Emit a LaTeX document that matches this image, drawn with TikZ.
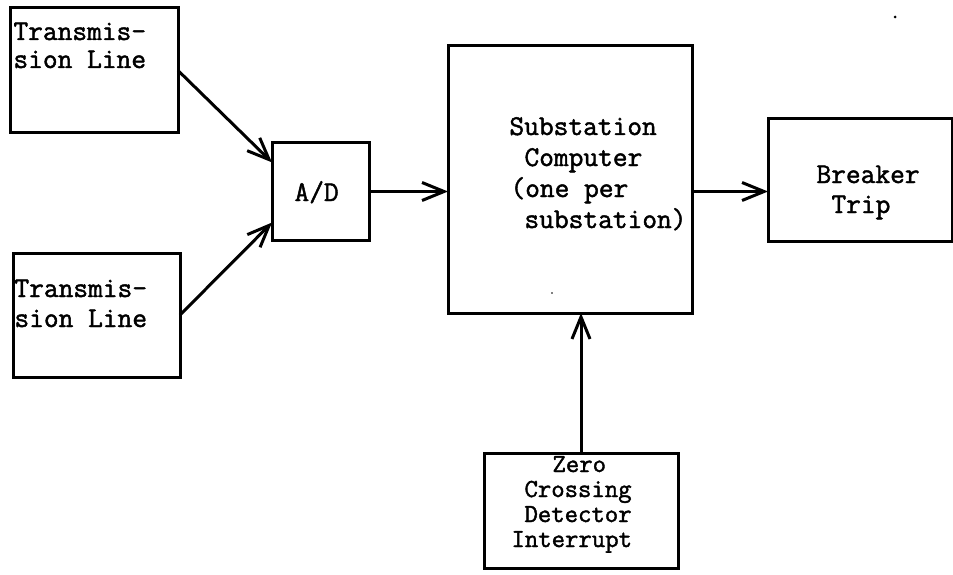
\documentclass[tikz,border=0pt]{standalone}
\usepackage{fontspec}
\newfontfamily\twfont{Latin Modern Mono}[FakeBold=1.6]
\usetikzlibrary{arrows.meta,calc}
\begin{document}
\begin{tikzpicture}[x=1pt,y=-1pt,line width=3pt,
  blk/.style={draw,rectangle,inner sep=0pt,outer sep=0pt},
  lbl/.style={anchor=base west,inner sep=0pt,font=\twfont\fontsize{28.6}{28.6}\selectfont},
  zlbl/.style={anchor=base west,inner sep=0pt,font=\twfont\fontsize{26}{26}\selectfont},
  conn/.style={-{Straight Barb[length=22pt,width=18pt]}}]
\useasboundingbox (0,0) rectangle (953,575);
\clip (0,0) rectangle (953,575);
% boxes
\node[blk,minimum width=168pt,minimum height=125pt] (tl1) at (94,70.5) {};
\node[blk,minimum width=97pt,minimum height=97pt] (ad) at (320.5,191.5) {};
\node[blk,minimum width=167pt,minimum height=124pt] (tl2) at (96.5,315) {};
\node[blk,minimum width=244pt,minimum height=267pt] (sub) at (570,179.5) {};
\node[blk,minimum width=184pt,minimum height=122pt] (brk) at (860,180) {};
\node[blk,minimum width=194pt,minimum height=115pt] (zero) at (581,510.5) {};
% labels
\node[lbl] (tl1a) at (12,40) {Transmis-};
\node[lbl] (tl1b) at (12,68) {sion Line};
\node[lbl] (tl2a) at (13,297) {Transmis-};
\node[lbl] (tl2b) at (13,327) {sion Line};
\node[lbl] (adl) at (293,201) {A/D};
\node[lbl] (sub1) at (508,135) {Substation};
\node[lbl] (sub2) at (523,166) {Computer};
\node[lbl] (sub3) at (509,197) {(one per};
\node[lbl] (sub4) at (523,228) {substation)};
\node[lbl] (brk1) at (815,183) {Breaker};
\node[lbl] (brk2) at (830,213) {Trip};
\node[zlbl] (z1) at (551,472) {Zero};
\node[zlbl] (z2) at (523,497) {Crossing};
\node[zlbl] (z3) at (523,522) {Detector};
\node[zlbl] (z4) at (510,547) {Interrupt};
% connectors
\coordinate (adin1) at ($(ad.north west)!0.2!(ad.south west)$);
\coordinate (adin2) at ($(ad.north west)!0.82!(ad.south west)$);
\draw[conn] (tl1.east) -- (adin1);
\draw[conn] (tl2.east) -- (adin2);
\draw[conn] (ad.east) -- (ad.east -| sub.west);
\draw[conn] (ad.east -| sub.east) -- (ad.east -| brk.west);
\draw[conn] (zero.north) -- (zero.north |- sub.south);
% specks
\fill (895,17) circle (1.5pt);
\fill (552,293) circle (0.8pt);
\end{tikzpicture}
\end{document}
